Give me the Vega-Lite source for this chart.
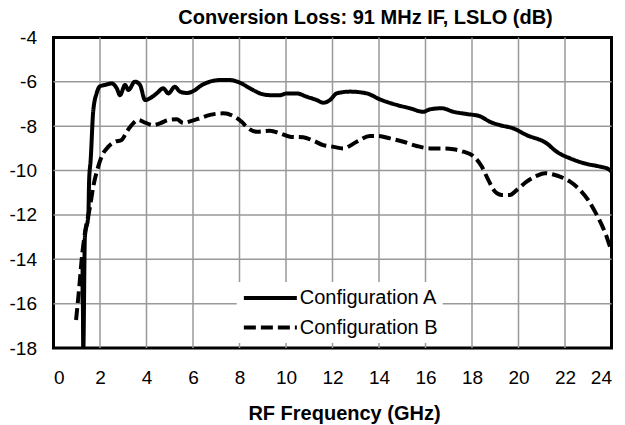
{
  "$schema": "https://vega.github.io/schema/vega-lite/v6.json",
  "autosize": {"type": "none"},
  "width": 558,
  "height": 310.5,
  "padding": {"left": 53.5, "top": 37.5, "right": 13.5, "bottom": 77},
  "background": "white",
  "config": {
    "font": "Liberation Sans",
    "view": {"stroke": "black", "strokeWidth": 3},
    "axis": {
      "grid": false,
      "labelColor": "black",
      "labelFontSize": 19,
      "titleColor": "black"
    }
  },
  "title": {
    "text": "Conversion Loss: 91 MHz IF, LSLO (dB)",
    "font": "Liberation Sans",
    "fontSize": 20,
    "fontWeight": "bold",
    "color": "black",
    "anchor": "middle",
    "dx": 33,
    "offset": 1
  },
  "datasets": {
    "gridx": [{"f": 2}, {"f": 4}, {"f": 6}, {"f": 8}, {"f": 10}, {"f": 12}, {"f": 14}, {"f": 16}, {"f": 18}, {"f": 20}, {"f": 22}],
    "gridy": [{"loss": -16}, {"loss": -14}, {"loss": -12}, {"loss": -10}, {"loss": -8}, {"loss": -6}],
    "curves": [
      {"f": 1.28, "loss": -18.2, "config": "Configuration A"},
      {"f": 1.25, "loss": -16, "config": "Configuration A"},
      {"f": 1.25, "loss": -14, "config": "Configuration A"},
      {"f": 1.35, "loss": -13, "config": "Configuration A"},
      {"f": 1.5, "loss": -12, "config": "Configuration A"},
      {"f": 1.53, "loss": -10.5, "config": "Configuration A"},
      {"f": 1.6, "loss": -9.5, "config": "Configuration A"},
      {"f": 1.71, "loss": -7.3, "config": "Configuration A"},
      {"f": 1.86, "loss": -6.5, "config": "Configuration A"},
      {"f": 2.0, "loss": -6.2, "config": "Configuration A"},
      {"f": 2.21, "loss": -6.14, "config": "Configuration A"},
      {"f": 2.5, "loss": -6.07, "config": "Configuration A"},
      {"f": 2.72, "loss": -6.29, "config": "Configuration A"},
      {"f": 2.86, "loss": -6.6, "config": "Configuration A"},
      {"f": 3.08, "loss": -6.14, "config": "Configuration A"},
      {"f": 3.22, "loss": -6.37, "config": "Configuration A"},
      {"f": 3.5, "loss": -5.99, "config": "Configuration A"},
      {"f": 3.72, "loss": -6.14, "config": "Configuration A"},
      {"f": 3.94, "loss": -6.82, "config": "Configuration A"},
      {"f": 4.15, "loss": -6.74, "config": "Configuration A"},
      {"f": 4.44, "loss": -6.52, "config": "Configuration A"},
      {"f": 4.72, "loss": -6.29, "config": "Configuration A"},
      {"f": 4.94, "loss": -6.52, "config": "Configuration A"},
      {"f": 5.22, "loss": -6.22, "config": "Configuration A"},
      {"f": 5.44, "loss": -6.44, "config": "Configuration A"},
      {"f": 5.73, "loss": -6.5, "config": "Configuration A"},
      {"f": 6.09, "loss": -6.37, "config": "Configuration A"},
      {"f": 6.3, "loss": -6.2, "config": "Configuration A"},
      {"f": 6.73, "loss": -5.99, "config": "Configuration A"},
      {"f": 7.16, "loss": -5.92, "config": "Configuration A"},
      {"f": 7.59, "loss": -5.92, "config": "Configuration A"},
      {"f": 8.02, "loss": -6.04, "config": "Configuration A"},
      {"f": 8.45, "loss": -6.29, "config": "Configuration A"},
      {"f": 8.88, "loss": -6.52, "config": "Configuration A"},
      {"f": 9.31, "loss": -6.6, "config": "Configuration A"},
      {"f": 9.74, "loss": -6.6, "config": "Configuration A"},
      {"f": 10.03, "loss": -6.52, "config": "Configuration A"},
      {"f": 10.46, "loss": -6.52, "config": "Configuration A"},
      {"f": 10.89, "loss": -6.67, "config": "Configuration A"},
      {"f": 11.32, "loss": -6.82, "config": "Configuration A"},
      {"f": 11.6, "loss": -6.94, "config": "Configuration A"},
      {"f": 11.89, "loss": -6.82, "config": "Configuration A"},
      {"f": 12.18, "loss": -6.52, "config": "Configuration A"},
      {"f": 12.75, "loss": -6.44, "config": "Configuration A"},
      {"f": 13.47, "loss": -6.52, "config": "Configuration A"},
      {"f": 14.04, "loss": -6.79, "config": "Configuration A"},
      {"f": 14.76, "loss": -7.04, "config": "Configuration A"},
      {"f": 15.33, "loss": -7.19, "config": "Configuration A"},
      {"f": 15.9, "loss": -7.35, "config": "Configuration A"},
      {"f": 16.19, "loss": -7.24, "config": "Configuration A"},
      {"f": 16.7, "loss": -7.19, "config": "Configuration A"},
      {"f": 17.2, "loss": -7.35, "config": "Configuration A"},
      {"f": 17.77, "loss": -7.45, "config": "Configuration A"},
      {"f": 18.34, "loss": -7.55, "config": "Configuration A"},
      {"f": 18.77, "loss": -7.8, "config": "Configuration A"},
      {"f": 19.2, "loss": -7.95, "config": "Configuration A"},
      {"f": 19.78, "loss": -8.1, "config": "Configuration A"},
      {"f": 20.35, "loss": -8.4, "config": "Configuration A"},
      {"f": 21.21, "loss": -8.77, "config": "Configuration A"},
      {"f": 21.64, "loss": -9.15, "config": "Configuration A"},
      {"f": 22.22, "loss": -9.45, "config": "Configuration A"},
      {"f": 22.93, "loss": -9.7, "config": "Configuration A"},
      {"f": 23.5, "loss": -9.82, "config": "Configuration A"},
      {"f": 23.86, "loss": -9.93, "config": "Configuration A"},
      {"f": 24.0, "loss": -10.05, "config": "Configuration A"},
      {"f": 0.97, "loss": -16.74, "config": "Configuration B"},
      {"f": 1.11, "loss": -15.24, "config": "Configuration B"},
      {"f": 1.21, "loss": -14.03, "config": "Configuration B"},
      {"f": 1.35, "loss": -12.83, "config": "Configuration B"},
      {"f": 1.57, "loss": -11.63, "config": "Configuration B"},
      {"f": 1.71, "loss": -10.73, "config": "Configuration B"},
      {"f": 1.93, "loss": -9.8, "config": "Configuration B"},
      {"f": 2.07, "loss": -9.37, "config": "Configuration B"},
      {"f": 2.36, "loss": -8.92, "config": "Configuration B"},
      {"f": 2.65, "loss": -8.7, "config": "Configuration B"},
      {"f": 2.93, "loss": -8.62, "config": "Configuration B"},
      {"f": 3.15, "loss": -8.25, "config": "Configuration B"},
      {"f": 3.36, "loss": -7.95, "config": "Configuration B"},
      {"f": 3.65, "loss": -7.72, "config": "Configuration B"},
      {"f": 3.94, "loss": -7.84, "config": "Configuration B"},
      {"f": 4.29, "loss": -7.95, "config": "Configuration B"},
      {"f": 4.58, "loss": -7.87, "config": "Configuration B"},
      {"f": 4.94, "loss": -7.72, "config": "Configuration B"},
      {"f": 5.3, "loss": -7.69, "config": "Configuration B"},
      {"f": 5.58, "loss": -7.85, "config": "Configuration B"},
      {"f": 5.94, "loss": -7.76, "config": "Configuration B"},
      {"f": 6.3, "loss": -7.64, "config": "Configuration B"},
      {"f": 6.73, "loss": -7.49, "config": "Configuration B"},
      {"f": 7.3, "loss": -7.42, "config": "Configuration B"},
      {"f": 7.73, "loss": -7.54, "config": "Configuration B"},
      {"f": 8.09, "loss": -7.8, "config": "Configuration B"},
      {"f": 8.38, "loss": -8.1, "config": "Configuration B"},
      {"f": 8.74, "loss": -8.25, "config": "Configuration B"},
      {"f": 9.31, "loss": -8.2, "config": "Configuration B"},
      {"f": 9.74, "loss": -8.32, "config": "Configuration B"},
      {"f": 10.17, "loss": -8.47, "config": "Configuration B"},
      {"f": 10.74, "loss": -8.5, "config": "Configuration B"},
      {"f": 11.17, "loss": -8.65, "config": "Configuration B"},
      {"f": 11.6, "loss": -8.85, "config": "Configuration B"},
      {"f": 12.0, "loss": -8.92, "config": "Configuration B"},
      {"f": 12.46, "loss": -9.0, "config": "Configuration B"},
      {"f": 13.04, "loss": -8.7, "config": "Configuration B"},
      {"f": 13.61, "loss": -8.44, "config": "Configuration B"},
      {"f": 13.97, "loss": -8.44, "config": "Configuration B"},
      {"f": 14.47, "loss": -8.55, "config": "Configuration B"},
      {"f": 15.05, "loss": -8.7, "config": "Configuration B"},
      {"f": 15.62, "loss": -8.89, "config": "Configuration B"},
      {"f": 16.19, "loss": -9.0, "config": "Configuration B"},
      {"f": 16.77, "loss": -9.0, "config": "Configuration B"},
      {"f": 17.2, "loss": -9.04, "config": "Configuration B"},
      {"f": 17.63, "loss": -9.15, "config": "Configuration B"},
      {"f": 18.06, "loss": -9.35, "config": "Configuration B"},
      {"f": 18.42, "loss": -9.82, "config": "Configuration B"},
      {"f": 18.7, "loss": -10.42, "config": "Configuration B"},
      {"f": 18.99, "loss": -10.95, "config": "Configuration B"},
      {"f": 19.28, "loss": -11.1, "config": "Configuration B"},
      {"f": 19.63, "loss": -11.1, "config": "Configuration B"},
      {"f": 19.92, "loss": -10.88, "config": "Configuration B"},
      {"f": 20.35, "loss": -10.5, "config": "Configuration B"},
      {"f": 20.78, "loss": -10.24, "config": "Configuration B"},
      {"f": 21.14, "loss": -10.12, "config": "Configuration B"},
      {"f": 21.57, "loss": -10.2, "config": "Configuration B"},
      {"f": 21.78, "loss": -10.27, "config": "Configuration B"},
      {"f": 22.22, "loss": -10.5, "config": "Configuration B"},
      {"f": 22.65, "loss": -10.88, "config": "Configuration B"},
      {"f": 23.0, "loss": -11.33, "config": "Configuration B"},
      {"f": 23.29, "loss": -11.85, "config": "Configuration B"},
      {"f": 23.58, "loss": -12.45, "config": "Configuration B"},
      {"f": 23.79, "loss": -12.98, "config": "Configuration B"},
      {"f": 23.94, "loss": -13.43, "config": "Configuration B"},
      {"f": 24.0, "loss": -13.55, "config": "Configuration B"}
    ]
  },
  "layer": [
    {
      "data": {"name": "gridx"},
      "mark": {"type": "rule", "color": "#999999", "strokeWidth": 1.5},
      "encoding": {
        "x": {"field": "f", "type": "quantitative", "scale": {"domain": [0, 24], "nice": false, "zero": false}}
      }
    },
    {
      "data": {"name": "gridy"},
      "mark": {"type": "rule", "color": "#999999", "strokeWidth": 1.5},
      "encoding": {
        "y": {"field": "loss", "type": "quantitative", "scale": {"domain": [-18, -4], "nice": false, "zero": false}}
      }
    },
    {
      "data": {"name": "curves"},
      "mark": {"type": "line", "color": "black", "strokeWidth": 4, "clip": true, "interpolate": "monotone"},
      "encoding": {
        "x": {
          "field": "f",
          "type": "quantitative",
          "scale": {"domain": [0, 24], "nice": false, "zero": false},
          "axis": {
            "grid": false,
            "domainOpacity": 0,
            "tickSize": 0,
            "tickOpacity": 0,
            "values": [0, 2, 4, 6, 8, 10, 12, 14, 16, 18, 20, 22, 24],
            "title": "RF Frequency (GHz)",
            "titleFontSize": 20,
            "titleFontWeight": "bold",
            "titlePadding": 16,
            "titleX": 290.5,
            "labelPadding": 20
          }
        },
        "y": {
          "field": "loss",
          "type": "quantitative",
          "scale": {"domain": [-18, -4], "nice": false, "zero": false},
          "axis": {
            "grid": false,
            "domainOpacity": 0,
            "tickSize": 0,
            "tickOpacity": 0,
            "values": [-18, -16, -14, -12, -10, -8, -6, -4],
            "labelExpr": "toString(datum.value)",
            "title": null,
            "labelPadding": 17
          }
        },
        "strokeDash": {
          "field": "config",
          "type": "nominal",
          "scale": {"domain": ["Configuration A", "Configuration B"], "range": [[1, 0], [12, 5]]},
          "legend": {
            "title": null,
            "orient": "none",
            "legendX": 183.2,
            "legendY": 244.5,
            "fillColor": "white",
            "padding": 5,
            "symbolType": "M-1,0H5",
            "symbolSize": 312,
            "symbolStrokeWidth": 4,
            "symbolStrokeColor": "black",
            "symbolFillColor": "transparent",
            "labelFontSize": 20,
            "labelColor": "black",
            "labelOffset": 36,
            "rowPadding": 8.5
          }
        }
      }
    }
  ]
}
